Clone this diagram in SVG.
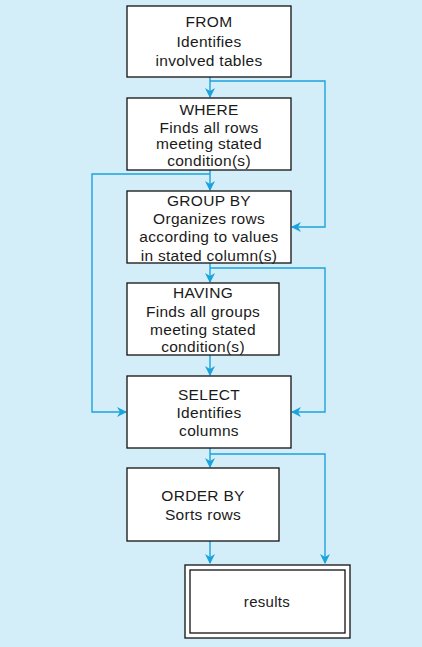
<svg xmlns="http://www.w3.org/2000/svg" width="422" height="647" viewBox="0 0 422 647">
<defs>
<style>
.box{fill:#fff;stroke:#111;stroke-width:1.3}
.t{font-family:"Liberation Sans",Arial,sans-serif;font-size:15.5px;fill:#1a1a1a;text-anchor:middle;letter-spacing:0.3px}
.c{fill:none;stroke:#1ba3db;stroke-width:1.4}
</style>
<marker id="ah" markerWidth="10" markerHeight="10" refX="9" refY="5" orient="auto" markerUnits="userSpaceOnUse">
<path d="M0,0 L10,5 L0,10 L3,5 z" fill="#1ba3db"/>
</marker>
</defs>
<rect width="422" height="647" fill="#d3edf9"/>
<g id="connectors">
<path class="c" d="M210,77 V97" marker-end="url(#ah)"/>
<path class="c" d="M210,81 H325 V227 H292" marker-end="url(#ah)"/>
<path class="c" d="M210,170 V190" marker-end="url(#ah)"/>
<path class="c" d="M210,174 H92 V412 H126" marker-end="url(#ah)"/>
<path class="c" d="M210,263 V282" marker-end="url(#ah)"/>
<path class="c" d="M210,268 H325 V412 H292" marker-end="url(#ah)"/>
<path class="c" d="M210,355 V375" marker-end="url(#ah)"/>
<path class="c" d="M210,448 V467" marker-end="url(#ah)"/>
<path class="c" d="M210,454 H325 V563" marker-end="url(#ah)"/>
<path class="c" d="M210,541 V563" marker-end="url(#ah)"/>
</g>
<g id="from">
<rect class="box" x="127" y="6" width="164" height="71"/>
<text class="t" x="209" y="27">FROM</text>
<text class="t" x="209" y="47">Identifies</text>
<text class="t" x="209" y="66">involved tables</text>
</g>
<g id="where">
<rect class="box" x="127" y="98" width="164" height="72"/>
<text class="t" x="209" y="115">WHERE</text>
<text class="t" x="209" y="133">Finds all rows</text>
<text class="t" x="209" y="149">meeting stated</text>
<text class="t" x="209" y="166">condition(s)</text>
</g>
<g id="groupby">
<rect class="box" x="127" y="191" width="164" height="72"/>
<text class="t" x="209" y="206">GROUP BY</text>
<text class="t" x="209" y="224">Organizes rows</text>
<text class="t" x="209" y="242">according to values</text>
<text class="t" x="209" y="261">in stated column(s)</text>
</g>
<g id="having">
<rect class="box" x="127" y="283" width="152" height="72"/>
<text class="t" x="203" y="298">HAVING</text>
<text class="t" x="203" y="317">Finds all groups</text>
<text class="t" x="203" y="335">meeting stated</text>
<text class="t" x="203" y="352">condition(s)</text>
</g>
<g id="select">
<rect class="box" x="127" y="376" width="164" height="72"/>
<text class="t" x="209" y="400">SELECT</text>
<text class="t" x="209" y="418">Identifies</text>
<text class="t" x="209" y="436">columns</text>
</g>
<g id="orderby">
<rect class="box" x="127" y="468" width="152" height="73"/>
<text class="t" x="203" y="501">ORDER BY</text>
<text class="t" x="203" y="520">Sorts rows</text>
</g>
<g id="results">
<rect class="box" x="185" y="565" width="165" height="73"/>
<rect class="box" x="190" y="570" width="155" height="63"/>
<text class="t" x="267" y="607" style="font-size:15px">results</text>
</g>
</svg>
